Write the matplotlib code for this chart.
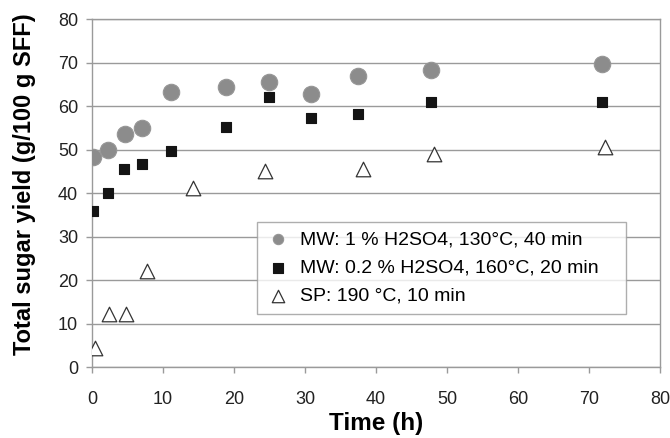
import matplotlib
matplotlib.use('Agg')
import matplotlib.pyplot as plt

plt.rcParams['font.family'] = ['Liberation Sans', 'DejaVu Sans']

# --- data ---
t_mw1 = [0.1, 2.2, 4.6, 7.1, 11.1, 18.9, 24.9, 30.9, 37.5, 47.8, 71.9]
y_mw1 = [48.2, 49.9, 53.6, 54.9, 63.3, 64.3, 65.6, 62.8, 66.9, 68.3, 69.7]

t_mw02 = [0.1, 2.2, 4.5, 7.1, 11.1, 18.9, 24.9, 30.9, 37.5, 47.8, 71.9]
y_mw02 = [35.9, 39.9, 45.5, 46.7, 49.7, 55.2, 62.0, 57.2, 58.1, 60.9, 60.9]

t_sp = [0.4, 2.4, 4.75, 7.8, 14.2, 24.3, 38.2, 48.2, 72.3]
y_sp = [4.3, 12.2, 12.2, 22.1, 41.1, 45.1, 45.5, 49.0, 50.6]

labels = ['MW: 1 % H2SO4, 130°C, 40 min',
          'MW: 0.2 % H2SO4, 160°C, 20 min',
          'SP: 190 °C, 10 min']

fig = plt.figure(figsize=(6.7, 4.38), dpi=100)
ax = fig.add_axes([0.1373, 0.1621, 0.8477, 0.7945])

ax.scatter(t_mw1, y_mw1, s=140, marker='o', color='#8c8c8c',
           edgecolors='#969696', linewidths=0.8, label=labels[0], zorder=3)
ax.scatter(t_mw02, y_mw02, s=62, marker='s', color='#141414',
           edgecolors='#141414', linewidths=0.8, label=labels[1], zorder=3)
ax.scatter(t_sp, y_sp, s=110, marker='^', color='white',
           edgecolors='#333333', linewidths=0.9, label=labels[2], zorder=3)

ax.set_xlim(0, 80)
ax.set_ylim(0, 80)
ax.set_xticks(range(0, 81, 10))
ax.set_yticks(range(0, 81, 10))
ax.yaxis.grid(True, color='#9a9a9a', linewidth=1.0)
ax.set_axisbelow(True)

for side in ['left', 'bottom', 'right', 'top']:
    ax.spines[side].set_color('#9a9a9a')
    ax.spines[side].set_linewidth(1.0)

ax.tick_params(axis='both', direction='out', length=4, width=1,
               color='#9a9a9a', labelsize=13, labelcolor='#222222')
ax.tick_params(axis='y', pad=6)
ax.tick_params(axis='x', pad=13)

ax.set_xlabel('Time (h)', fontsize=17.5, fontweight='bold', labelpad=3)
ax.set_ylabel('Total sugar yield (g/100 g SFF)', fontsize=17,
              fontweight='bold')
ax.yaxis.set_label_coords(-0.099, 0.526)

# legend box spans a fixed width like the Excel original
leg_w, leg_h = 0.6496, 0.267
leg = ax.legend(loc='upper left', mode='expand',
                bbox_to_anchor=(0.2905, 0.4167 - leg_h, leg_w, leg_h),
                fontsize=14, frameon=True, fancybox=False,
                edgecolor='#9a9a9a', borderpad=0.45, handletextpad=0.45,
                labelspacing=0.55, handlelength=1.3, borderaxespad=0)
leg.get_frame().set_linewidth(1.0)
leg.legend_handles[0].set_sizes([55])
leg.legend_handles[1].set_sizes([45])
leg.legend_handles[2].set_sizes([80])

fig.savefig('out.png', dpi=100)
